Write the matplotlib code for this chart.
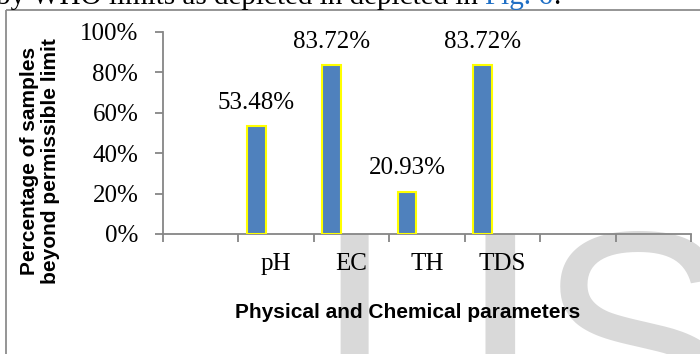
import matplotlib
matplotlib.use("Agg")
import matplotlib.pyplot as plt
from matplotlib.patches import Rectangle
import numpy as np

categories = ["", "pH", "EC", "TH", "TDS", "", ""]
values = [np.nan, 53.48, 83.72, 20.93, 83.72, np.nan, np.nan]
value_labels = ["", "53.48%", "83.72%", "20.93%", "83.72%", "", ""]
yticks = [0, 20, 40, 60, 80, 100]
ytick_labels = ["0%", "20%", "40%", "60%", "80%", "100%"]

W, H = 700, 354
fig = plt.figure(figsize=(W / 100, H / 100), dpi=100)
fig.patch.set_facecolor("white")

serif = "Liberation Serif"
sans = "Liberation Sans"
GRAY = "#868686"

# page layer: watermark, chart frame, cut-off body text
wm = fig.add_axes([0, 0, 1, 1], zorder=-5)
wm.set_xlim(0, W)
wm.set_ylim(H, 0)
wm.axis("off")
# letter, font, anchor side, target ink x, target ink top (pixels)
letters = [("I", sans, "left", 340, 234),
           ("J", "DejaVu Sans", "right", 515, 234),
           ("S", sans, "left", 560, 231)]
texts = [wm.text(tx, 449, ch, ha="left", va="baseline", fontsize=216, family=fam,
                 color="#d9d9d9", clip_on=False)
         for ch, fam, side, tx, ty in letters]


def ink_of(t):
    for o in texts:
        o.set_visible(o is t)
    fig.canvas.draw()
    img = np.asarray(fig.canvas.buffer_rgba())[:, :, 0]
    m = img < 250
    rows = np.where(m.any(axis=1))[0]
    cols = np.where(m[234:, :].any(axis=0))[0]
    return cols.min(), cols.max(), rows.min()


for (ch, fam, side, tx, ty), t in zip(letters, texts):
    _, _, top = ink_of(t)
    px, py = t.get_position()
    t.set_position((px, py + (ty - top)))
    x0, x1, _ = ink_of(t)
    dx = tx - (x0 if side == "left" else x1)
    px, py = t.get_position()
    t.set_position((px + dx, py))
for t in texts:
    t.set_visible(True)
    t.set_clip_on(True)

wm.add_patch(Rectangle((6, 10), 720, 400, fill=False, edgecolor="#8c8c8c", lw=1.3))

fs_body = 21
t1 = wm.text(-4, 4, "by WHO limits as depicted in depicted in", fontsize=fs_body,
             family=serif, color="black", va="baseline", ha="left")
fig.canvas.draw()
r = fig.canvas.get_renderer()
inv = wm.transData.inverted()
bb = t1.get_window_extent(r)
sp = 0.25 * fs_body * 100 / 72
x2 = inv.transform((bb.x1 + sp, 0))[0]
t2 = wm.text(x2, 4, "Fig. 6", fontsize=fs_body, family=serif, color="#1f6fc5",
             va="baseline", ha="left")
bb2 = t2.get_window_extent(r)
x3 = inv.transform((bb2.x1, 0))[0]
wm.text(x3, 4, ".", fontsize=fs_body, family=serif, color="black",
        va="baseline", ha="left")

ax = fig.add_axes([163 / W, 1 - 234 / H, (691 - 163) / W, (234 - 32) / H])
ax.set_facecolor("none")
x = np.arange(len(categories))
bar_off = -0.265
ax.bar(x + bar_off, values, width=0.25, color="#4f81bd",
       edgecolor="#ffff00", linewidth=1.5, zorder=3)
for xi, v, lab in zip(x, values, value_labels):
    if lab:
        ax.annotate(lab, (xi + bar_off, v), xytext=(0, 12.5), textcoords="offset points",
                    ha="center", va="baseline", fontsize=18, family=serif)

ax.set_xlim(-0.5, len(categories) - 0.5)
ax.set_ylim(0, 100)
ax.set_xticks(np.arange(-0.5, len(categories)))
ax.set_xticklabels([])
ax.set_xticks(x, minor=True)
ax.set_xticklabels(categories, minor=True, fontsize=18, family=serif)
ax.tick_params(axis="x", which="major", length=5.8, width=1.3, color=GRAY, direction="out")
ax.tick_params(axis="x", which="minor", length=0, pad=14)
ax.set_yticks(yticks)
ax.set_yticklabels(ytick_labels, fontsize=18, family=serif)
ax.tick_params(axis="y", length=5.8, width=1.3, color=GRAY, direction="out", pad=12)
for s in ["top", "right"]:
    ax.spines[s].set_visible(False)
for s in ["left", "bottom"]:
    ax.spines[s].set_color(GRAY)
    ax.spines[s].set_linewidth(1.3)

fig.text(408 / W, 1 - 312 / H, "Physical and Chemical parameters", fontsize=15,
         family=sans, fontweight="bold", ha="center", va="center")
fig.text(40 / W, 1 - 161 / H, "Percentage of samples\nbeyond permissible limit",
         fontsize=15, family=sans, fontweight="bold", rotation=90,
         ha="center", va="center", multialignment="center", linespacing=1.15)

fig.savefig("out.png", dpi=100)
